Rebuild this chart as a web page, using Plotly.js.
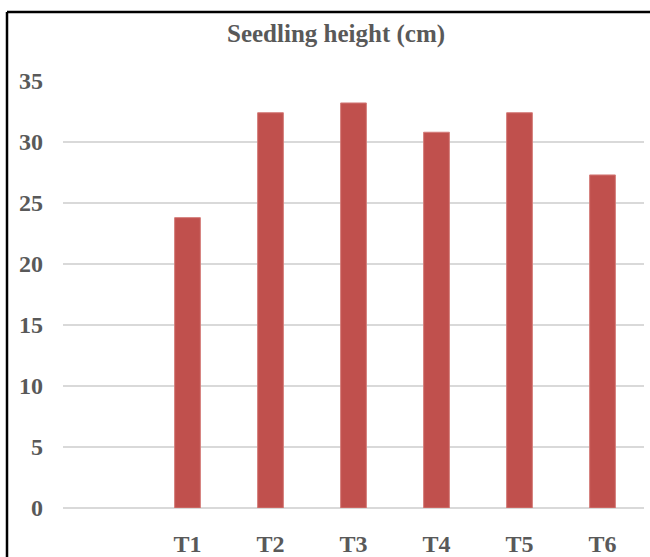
<!DOCTYPE html>
<html>
<head>
<meta charset="utf-8">
<script src="https://cdn.plot.ly/plotly-3.0.1.min.js"></script>
<style>
  html, body { margin: 0; padding: 0; background: #fff; }
  #chart { width: 650px; height: 557px; }
</style>
</head>
<body>
<div id="chart"></div>
<script>
const categories = ['T1', 'T2', 'T3', 'T4', 'T5', 'T6'];
const seedlingHeight = [23.8, 32.4, 33.2, 30.8, 32.4, 27.3];
const yTickValues = [0, 5, 10, 15, 20, 25, 30, 35];
const chartTitle = 'Seedling height (cm)';

const fontFamily = '"Liberation Serif", "Times New Roman", serif';
const textColor = '#595959';

const trace = {
  type: 'bar',
  x: categories,
  y: seedlingHeight,
  marker: { color: '#C0504D', line: { color: '#d47c79', width: 1 } },
  hoverinfo: 'x+y'
};

const layout = {
  width: 650,
  height: 557,
  margin: { l: 63, r: 6, t: 81, b: 49 },
  paper_bgcolor: '#ffffff',
  plot_bgcolor: '#ffffff',
  showlegend: false,
  bargap: 0.69,
  title: {
    text: chartTitle,
    font: { family: fontFamily, size: 25, color: textColor, weight: 'bold' },
    x: 0.517, xref: 'container', xanchor: 'center',
    y: 0.94, yref: 'container', yanchor: 'middle'
  },
  xaxis: {
    type: 'category',
    range: [-1.5, 5.5],
    showgrid: false,
    zeroline: false,
    showline: false,
    ticks: '',
    ticklabelstandoff: 19,
    tickfont: { family: fontFamily, size: 24, color: textColor, weight: 'bold' }
  },
  yaxis: {
    range: [0, 35],
    tickvals: yTickValues,
    ticktext: yTickValues.map(String),
    showgrid: true,
    gridcolor: '#d9d9d9',
    gridwidth: 1.5,
    zeroline: true,
    zerolinecolor: '#d9d9d9',
    zerolinewidth: 1.5,
    showline: false,
    ticks: '',
    ticklabelstandoff: 19,
    tickfont: { family: fontFamily, size: 24, color: textColor, weight: 'bold' }
  },
  shapes: [
    {
      type: 'line', xref: 'paper', yref: 'paper',
      x0: (7 - 63) / 581, x1: (7 - 63) / 581,
      y0: -0.3, y1: 1 + (81 - 12) / 427,
      line: { color: '#000000', width: 2.5 }
    },
    {
      type: 'line', xref: 'paper', yref: 'paper',
      x0: (7 - 63) / 581, x1: 1.2,
      y0: 1 + (81 - 12) / 427, y1: 1 + (81 - 12) / 427,
      line: { color: '#000000', width: 2.5 }
    }
  ]
};

Plotly.newPlot('chart', [trace], layout, { displayModeBar: false, staticPlot: true });
</script>
</body>
</html>
